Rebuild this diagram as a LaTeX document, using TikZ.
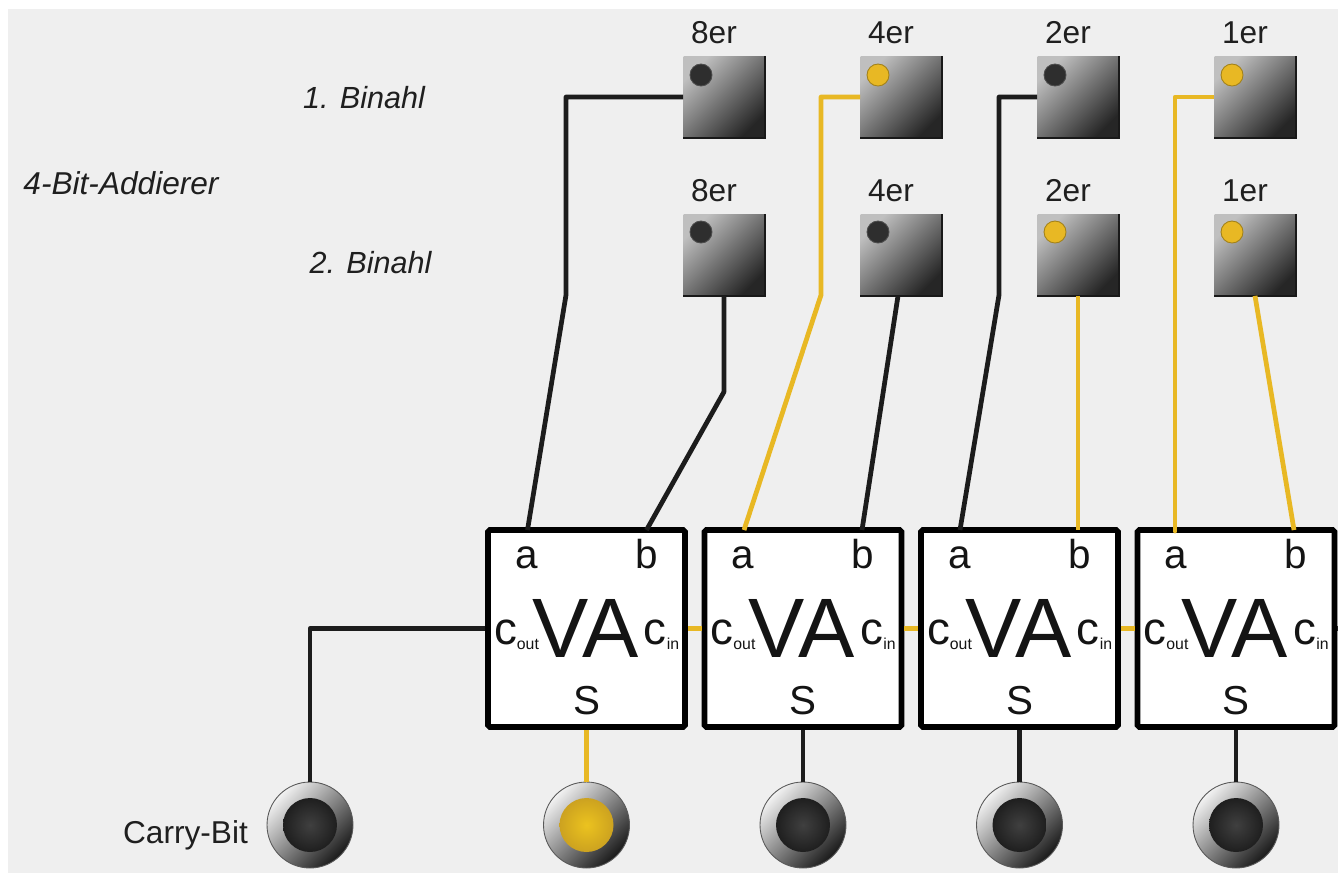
\documentclass[tikz,border=0pt]{standalone}
\usepackage{fontspec}
\setmainfont{Liberation Sans}
\usetikzlibrary{shadings}
\definecolor{wireblack}{HTML}{1C1C1C}
\definecolor{wireyellow}{HTML}{E8B824}
\definecolor{paneback}{HTML}{EFEFEF}
\newcommand{\pxfont}[1]{\fontsize{#1}{#1}\selectfont}
\newcommand{\carrytext}[1]{\pxfont{26}c\raisebox{-3.4pt}{\pxfont{9}#1}}
\tikzset{
	wire/.style={line width=2.7pt,line join=round},
	blackwire/.style={wire,wireblack},
	yellowwire/.style={wire,wireyellow},
	inputbox/.style={minimum size=1.62cm,inner sep=0pt,shading=axis,top color=black!25,bottom color=black!85,shading angle=45},
	led/.style={circle,minimum size=0.44cm,inner sep=0pt},
	ledblack/.style={led,fill=black!82,draw=black!70,line width=0.5pt},
	ledyellow/.style={led,fill=wireyellow,draw=wireyellow!70!black,line width=0.5pt},
	addbox/.style={draw=black,fill=white,line width=3.2pt,rounded corners=1pt,minimum width=3.94cm,minimum height=3.94cm,inner sep=0pt},
	outring/.style={circle,minimum size=1.72cm,inner sep=0pt,draw=black!65,line width=0.5pt,shading=axis,top color=black!5,bottom color=black!90,shading angle=45},
	ballblack/.style={circle,minimum size=1.08cm,inner sep=0pt,inner color=black!75,outer color=black!88},
	ballyellow/.style={circle,minimum size=1.08cm,inner sep=0pt,inner color=wireyellow!85!yellow,outer color=wireyellow!88!black},
	boxlabel/.style={anchor=base,inner sep=0pt,text=black!92},
	plainlabel/.style={inner sep=0pt,text=black!88,font=\pxfont{18}},
	namelabel/.style={plainlabel,font=\pxfont{17.4}\itshape}
}

\begin{document}
\begin{tikzpicture}[x=0.02cm,y=-0.02cm]
	\useasboundingbox (0,0) rectangle (1338,873);
	\fill[white] (0,0) rectangle (1338,873);
	\fill[paneback] (8,9) rectangle (1338,873);

	\node[namelabel] (name1) at (364,98) {1. Binahl};
	\node[namelabel] (name2) at (370.5,263) {2. Binahl};
	\node[namelabel,font=\pxfont{18}\itshape] (title) at (121,183) {4-Bit-Addierer};
	\node[plainlabel] (carrylabel) at (185.5,835) {Carry-Bit};

	% inputs, top row A and lower row B
	\foreach \i/\x/\n/\ca/\cb in {1/724/8/black/black,2/901/4/yellow/black,3/1078/2/black/yellow,4/1255/1/yellow/yellow}
	{
		\node[inputbox] (\i A) at (\x,97) {};
		\node[inputbox] (\i B) at (\x,255) {};
		\draw[black!90,line width=0.8pt] (\i A.north east) -- (\i A.south east) -- (\i A.south west);
		\draw[black!90,line width=0.8pt] (\i B.north east) -- (\i B.south east) -- (\i B.south west);
		\node[led\ca] (\i Aled) at (\x-23,75) {};
		\node[led\cb] (\i Bled) at (\x-23,232) {};
		\node[plainlabel] (\i Atext) at (\x-10,33) {\n er};
		\node[plainlabel] (\i Btext) at (\x-10,191) {\n er};
	}

	% adders
	\foreach \i/\x/\ena/\enb/\c in {1/586.5/-59/60/yellow,2/803/-59/59/black,3/1019.5/-59.5/58.5/black,4/1236/-61/58/black}
	{
		\node[addbox] (\i VA) at (\x,628.5) {};
		\coordinate (\i Ain) at (\x+\ena,530);
		\coordinate (\i Bin) at (\x+\enb,530);
		\node[boxlabel,font=\pxfont{23}] (\i a) at (\x-60,568) {a};
		\node[boxlabel,font=\pxfont{23}] (\i b) at (\x+60,568) {b};
		\node[boxlabel,font=\pxfont{48}] (\i name) at (\x-1,657) {VA};
		\node[boxlabel,font=\pxfont{23}] (\i s) at (\x,714) {S};
		\node[boxlabel] (\i cout) at (\x-70,644) {\carrytext{out}};
		\node[boxlabel] (\i cin) at (\x+75,644) {\carrytext{in}};
		\node[outring] (\i Ring) at (\x,825) {};
		\node[ball\c] (\i Ball) at (\x,825) {};
		\draw[\c wire] (\i VA.south) -- (\i Ring.north);
	}
	\node[outring] (0Ring) at (310,825) {};
	\node[ballblack] (0Ball) at (310,825) {};
	\coordinate (endstub) at (1338,628.5);

	\draw[blackwire] (1A.west) -| (566,295) -- (1Ain);
	\draw[blackwire] (1B.south) -- (723.9,392) -- (1Bin);
	\draw[yellowwire] (2A.west) -| (821,295) -- (2Ain);
	\draw[blackwire] (2B.south) ++(-3,0) -- (2Bin);
	\draw[blackwire] (3A.west) -| (999,295) -- (3Ain);
	\draw[yellowwire] (3B.south) -- (3Bin);
	\draw[yellowwire] (4A.west) -| (1175,531) -- (4Ain);
	\draw[yellowwire] (4B.south) -- (4Bin);
	\draw[blackwire] (1VA.west) -| (0Ring.north);
	\draw[yellowwire] (1VA.east) -- (2VA.west);
	\draw[yellowwire] (2VA.east) -- (3VA.west);
	\draw[yellowwire] (3VA.east) -- (4VA.west);
	\draw[blackwire] (4VA.east) -- (endstub);
\end{tikzpicture}
\end{document}
